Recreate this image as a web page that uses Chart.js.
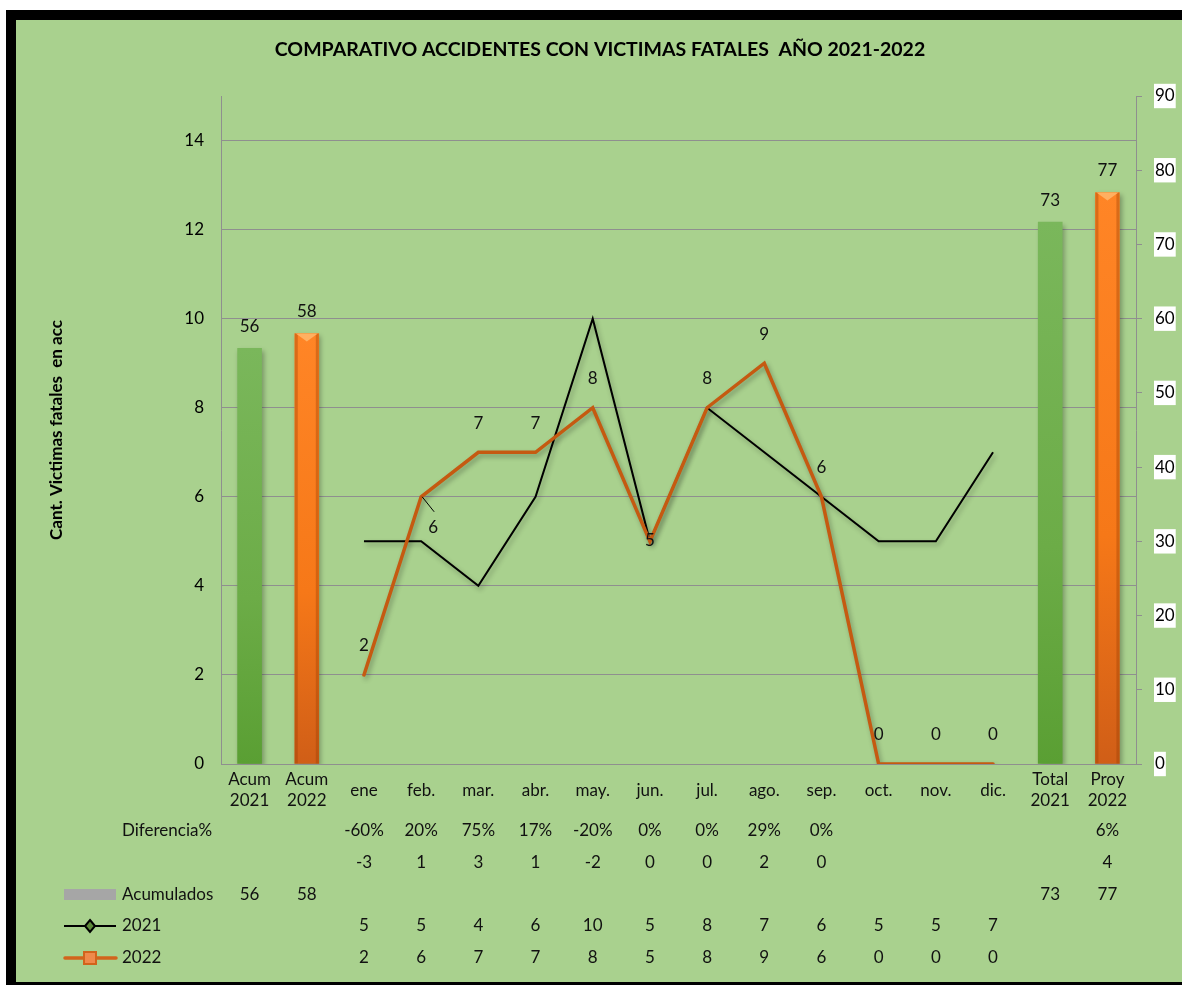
<!DOCTYPE html>
<html lang="es">
<head>
<meta charset="utf-8">
<title>Comparativo accidentes con victimas fatales 2021-2022</title>
<script src="https://cdn.jsdelivr.net/npm/chart.js@4.4.1/dist/chart.umd.min.js"></script>
<style>
  html, body { margin: 0; padding: 0; background: #fff; }
  #wrap { width: 1182px; height: 985px; }
</style>
</head>
<body>
<div id="wrap"><canvas id="chart" width="1182" height="985"></canvas></div>
<script>
// Data
const categories = [
  "Acum 2021", "Acum 2022",
  "ene", "feb.", "mar.", "abr.", "may.", "jun.", "jul.", "ago.", "sep.", "oct.", "nov.", "dic.",
  "Total 2021", "Proy 2022",
];
const acumulados = [56, 58, null, null, null, null, null, null, null, null, null, null, null, null, 73, 77];
const serie2021 = [null, null, 5, 5, 4, 6, 10, 5, 8, 7, 6, 5, 5, 7, null, null];
const serie2022 = [null, null, 2, 6, 7, 7, 8, 5, 8, 9, 6, 0, 0, 0, null, null];
const diferenciaPct = [null, null, -60, 20, 75, 17, -20, 0, 0, 29, 0, null, null, null, null, 6];
const diferenciaAbs = [null, null, -3, 1, 3, 1, -2, 0, 0, 2, 0, null, null, null, null, 4];

const FONT = "Lato, 'Open Sans', sans-serif";
const TEXT = "#111";
const GRID = "#8f8f8f";

// bar colours by category: green for 2021, orange for 2022
const GREEN = ["#7ab75b", "#6cac47", "#5a9f33"];
const ORANGE = ["#ff8526", "#f67818", "#d05e17"];
const barStyle = ["g", "o", null, null, null, null, null, null, null, null, null, null, null, null, "g", "o"];

function barFill(context) {
  const stops = barStyle[context.dataIndex] === "g" ? GREEN : ORANGE;
  const chart = context.chart;
  if (!chart.chartArea || context.raw == null) return stops[1];
  const top = chart.scales.y1.getPixelForValue(context.raw);
  const g = chart.ctx.createLinearGradient(0, top, 0, chart.chartArea.bottom);
  g.addColorStop(0, stops[0]);
  g.addColorStop(0.6, stops[1]);
  g.addColorStop(1, stops[2]);
  return g;
}

// green panel with thick black frame
const framePlugin = {
  id: "frame",
  beforeDraw(chart) {
    const ctx = chart.ctx;
    ctx.save();
    ctx.fillStyle = "#fff";
    ctx.fillRect(0, 0, chart.width, chart.height);
    ctx.fillStyle = "#000";
    ctx.fillRect(6, 10, chart.width - 6, chart.height - 10);
    ctx.fillStyle = "#a9d18e";
    ctx.fillRect(16, 20, chart.width - 16, chart.height - 23);
    ctx.restore();
  },
};

const shadowPlugin = {
  id: "shadow",
  beforeDatasetDraw(chart) {
    const ctx = chart.ctx;
    ctx.save();
    ctx.shadowColor = "rgba(0,0,0,0.3)";
    ctx.shadowBlur = 5;
    ctx.shadowOffsetX = 2;
    ctx.shadowOffsetY = 3;
  },
  afterDatasetDraw(chart) {
    chart.ctx.restore();
  },
};

// bevel on the orange bars: light top cap, darker side edges
const bevelPlugin = {
  id: "bevel",
  afterDatasetDraw(chart, args) {
    if (args.index !== 0) return;
    const ctx = chart.ctx;
    ctx.save();
    args.meta.data.forEach((el, i) => {
      if (barStyle[i] !== "o") return;
      const half = el.width / 2;
      const left = el.x - half, right = el.x + half;
      ctx.fillStyle = "rgba(150,60,0,0.35)";
      ctx.fillRect(left, el.y, 3, el.base - el.y);
      ctx.fillRect(right - 3, el.y, 3, el.base - el.y);
      ctx.fillStyle = "#ffb061";
      ctx.beginPath();
      ctx.moveTo(left + 1, el.y);
      ctx.lineTo(right - 1, el.y);
      ctx.lineTo(el.x, el.y + 8);
      ctx.closePath();
      ctx.fill();
    });
    ctx.restore();
  },
};

const valueLabels = {
  id: "valueLabels",
  afterDatasetsDraw(chart) {
    const ctx = chart.ctx;
    ctx.save();
    ctx.font = "17px " + FONT;
    ctx.fillStyle = TEXT;
    ctx.textAlign = "center";
    ctx.textBaseline = "middle";

    const bars = chart.getDatasetMeta(0);
    bars.data.forEach((el, i) => {
      if (acumulados[i] == null) return;
      ctx.fillText(String(acumulados[i]), el.x, el.y - 22);
    });

    const line = chart.getDatasetMeta(2);
    line.data.forEach((el, i) => {
      if (serie2022[i] == null) return;
      let dx = 0, dy = -29;
      if (categories[i] === "feb.") {
        // label pulled below the point, with a leader line
        dx = 12; dy = 31;
        ctx.strokeStyle = "#000";
        ctx.lineWidth = 1;
        ctx.beginPath();
        ctx.moveTo(el.x + 1, el.y);
        ctx.lineTo(el.x + 13, el.y + 15);
        ctx.stroke();
      } else if (categories[i] === "jun.") {
        dy = -1;
      }
      ctx.fillText(String(serie2022[i]), el.x + dx, el.y + dy);
    });
    ctx.restore();
  },
};

// category labels + data table under the plot
const tablePlugin = {
  id: "table",
  afterDraw(chart) {
    const ctx = chart.ctx;
    const x = chart.scales.x;
    ctx.save();
    ctx.font = "17px " + FONT;
    ctx.fillStyle = TEXT;
    ctx.textBaseline = "middle";
    ctx.textAlign = "center";

    categories.forEach((c, i) => {
      const px = x.getPixelForValue(i);
      const lines = c.split(" ");
      if (lines.length === 2) {
        ctx.fillText(lines[0], px, 780);
        ctx.fillText(lines[1], px, 801);
      } else {
        ctx.fillText(c, px, 791);
      }
    });

    const rows = [
      { y: 831, vals: diferenciaPct.map((v) => (v == null ? null : v + "%")) },
      { y: 863, vals: diferenciaAbs },
      { y: 895, vals: acumulados },
      { y: 926, vals: serie2021 },
      { y: 958, vals: serie2022 },
    ];
    rows.forEach((r) => {
      r.vals.forEach((v, i) => {
        if (v == null) return;
        ctx.fillText(String(v), x.getPixelForValue(i), r.y);
      });
    });

    ctx.textAlign = "left";
    ctx.fillText("Diferencia%", 122, 831);
    ctx.fillText("Acumulados", 122, 895);
    ctx.fillText("2021", 122, 926);
    ctx.fillText("2022", 122, 958);

    // legend keys
    ctx.fillStyle = "#a6a6a6";
    ctx.fillRect(64, 889, 52, 11);

    ctx.strokeStyle = "#000";
    ctx.lineWidth = 2;
    ctx.beginPath();
    ctx.moveTo(64, 926);
    ctx.lineTo(116, 926);
    ctx.stroke();
    ctx.beginPath();
    ctx.moveTo(90, 920);
    ctx.lineTo(95, 926);
    ctx.lineTo(90, 932);
    ctx.lineTo(85, 926);
    ctx.closePath();
    ctx.fillStyle = "#5e8a3a";
    ctx.fill();
    ctx.stroke();

    ctx.strokeStyle = "#d2641c";
    ctx.lineWidth = 3.5;
    ctx.lineCap = "round";
    ctx.beginPath();
    ctx.moveTo(65, 958);
    ctx.lineTo(116, 958);
    ctx.stroke();
    ctx.fillStyle = "#f08a4b";
    ctx.fillRect(84, 952, 12, 12);
    ctx.lineWidth = 2;
    ctx.strokeRect(84, 952, 12, 12);
    ctx.restore();
  },
};

new Chart(document.getElementById("chart"), {
  data: {
    labels: categories,
    datasets: [
      {
        type: "bar",
        label: "Acumulados",
        data: acumulados,
        yAxisID: "y1",
        backgroundColor: barFill,
        borderWidth: 0,
        barThickness: 24,
        order: 3,
      },
      {
        type: "line",
        label: "2021",
        data: serie2021,
        yAxisID: "y",
        borderColor: "#000",
        borderWidth: 2,
        pointRadius: 0,
        tension: 0,
        order: 2,
      },
      {
        type: "line",
        label: "2022",
        data: serie2022,
        yAxisID: "y",
        borderColor: "#c55a11",
        borderWidth: 3.5,
        borderCapStyle: "round",
        pointRadius: 0,
        tension: 0,
        order: 1,
      },
    ],
  },
  options: {
    responsive: false,
    animation: false,
    layout: { padding: { left: 18, right: 0, top: 0, bottom: 0 } },
    plugins: {
      legend: { display: false },
      tooltip: { enabled: false },
      title: {
        display: true,
        text: "COMPARATIVO ACCIDENTES CON VICTIMAS FATALES  AÑO 2021-2022",
        color: "#000",
        font: { family: FONT, size: 19.5, weight: "bold" },
        padding: { top: 38.3, bottom: 34.3 },
      },
    },
    scales: {
      x: {
        type: "category",
        offset: true,
        grid: { display: false },
        border: { display: true, color: GRID },
        ticks: { display: false },
        afterFit(scale) { scale.height = 221; },
      },
      y: {
        position: "left",
        min: 0,
        max: 15,
        ticks: { stepSize: 2, padding: 17, color: "#000", font: { family: FONT, size: 17 } },
        afterBuildTicks(scale) { scale.ticks = scale.ticks.filter((t) => t.value % 2 === 0); },
        grid: { color: GRID, drawTicks: false },
        border: { display: true, color: GRID },
        title: {
          display: true,
          text: "Cant. Victimas fatales  en acc",
          color: "#000",
          font: { family: FONT, size: 17, weight: "bold" },
          padding: { top: 28.8, bottom: 0 },
        },
        afterFit(scale) { scale.width = 203; },
      },
      y1: {
        position: "right",
        min: 0,
        max: 90,
        ticks: {
          stepSize: 10,
          padding: 13,
          color: "#000",
          font: { family: FONT, size: 17 },
          showLabelBackdrop: true,
          backdropColor: "#fff",
          backdropPadding: { x: 1, y: 2 },
        },
        grid: { drawOnChartArea: false, drawTicks: true, tickLength: 6, color: GRID },
        border: { display: true, color: GRID },
        afterFit(scale) { scale.width = 46; },
      },
    },
  },
  plugins: [framePlugin, shadowPlugin, bevelPlugin, valueLabels, tablePlugin],
});
</script>
</body>
</html>
